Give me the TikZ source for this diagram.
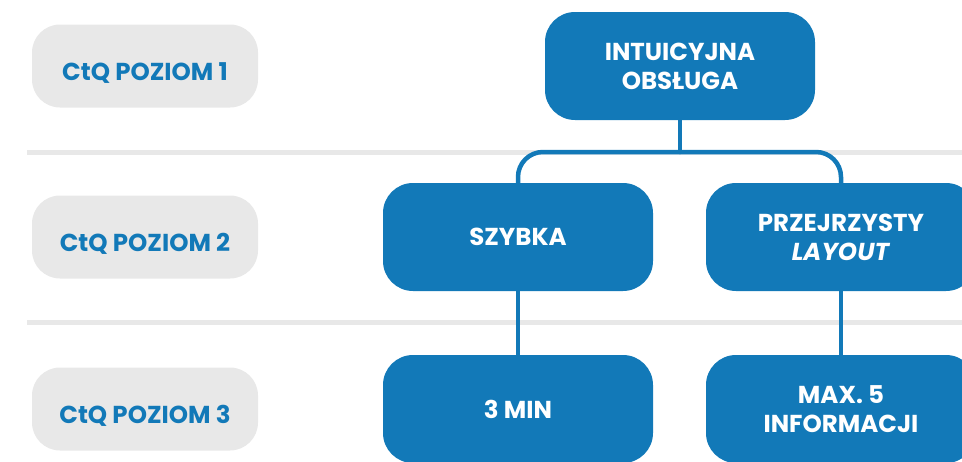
\documentclass[tikz,border=0pt]{standalone}
\usepackage{fontspec}
\setmainfont{Poppins}
\definecolor{ctqblue}{RGB}{18,121,184}
\definecolor{ctqgray}{RGB}{232,232,232}
\begin{document}
\begin{tikzpicture}[x=1pt, y=-1pt, line join=round, line cap=round,
	level/.style={fill=ctqgray, rounded corners=28pt, minimum width=226pt, minimum height=83pt,
		text height=28pt, text depth=0pt,
		text=ctqblue, font=\bfseries\fontsize{24.5}{28}\selectfont},
	box/.style={fill=ctqblue, rounded corners=30pt, minimum width=270pt, minimum height=108pt,
		text=white, align=center, font=\bfseries\fontsize{24.5}{29}\selectfont},
	conn/.style={draw=ctqblue, line width=4.5pt}]
	\useasboundingbox (0,0) rectangle (962,461);
	\clip (0,0) rectangle (962,461);
	% separators
	\foreach \y in {152,322}
		\draw[ctqgray, line width=5pt, line cap=butt] (27,\y) -- (962,\y);
	% levels
	\foreach \n/\y in {1/66,2/237,3/409}
		\node[level] (lvl\n) at (145,\y) {CtQ POZIOM \n};
	% tree
	\node[box] (top) at (680,66) {INTUICYJNA\\OBSŁUGA};
	\node[box] (fast) at (518,237) {SZYBKA};
	\node[box] (clear) at (841,237) {PRZEJRZYSTY\\\textit{LAYOUT}};
	\node[box] (min) at (518,409) {3 MIN};
	\node[box] (info) at (841,409) {MAX. 5\\INFORMACJI};
	\coordinate (bar) at (680,152);
	\draw[conn] (top.south) -- (bar);
	\draw[conn, rounded corners=25pt] (fast.north) |- (bar) -| (clear.north);
	\draw[conn] (fast.south) -- (min.north);
	\draw[conn] (clear.south) -- (info.north);
\end{tikzpicture}
\end{document}
